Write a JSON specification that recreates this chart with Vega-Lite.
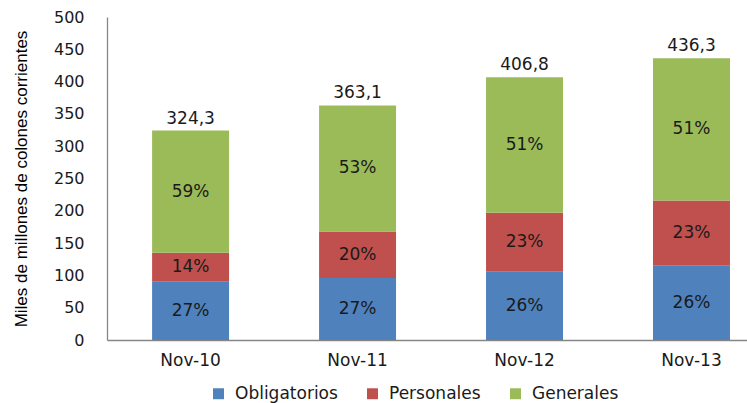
{
  "$schema": "https://vega.github.io/schema/vega-lite/v6.json",
  "width": 640,
  "height": 323,
  "autosize": {"type": "none"},
  "padding": {"left": 107, "top": 17, "right": 0, "bottom": 63},
  "background": "white",
  "data": {
    "values": [
      {"fecha": "Nov-10", "tipo": "Obligatorios", "orden": 1, "valor": 90.0, "pct": 0.27},
      {"fecha": "Nov-10", "tipo": "Personales", "orden": 2, "valor": 45.0, "pct": 0.14},
      {"fecha": "Nov-10", "tipo": "Generales", "orden": 3, "valor": 189.3, "pct": 0.59},
      {"fecha": "Nov-11", "tipo": "Obligatorios", "orden": 1, "valor": 96.0, "pct": 0.27},
      {"fecha": "Nov-11", "tipo": "Personales", "orden": 2, "valor": 72.0, "pct": 0.20},
      {"fecha": "Nov-11", "tipo": "Generales", "orden": 3, "valor": 195.1, "pct": 0.53},
      {"fecha": "Nov-12", "tipo": "Obligatorios", "orden": 1, "valor": 105.6, "pct": 0.26},
      {"fecha": "Nov-12", "tipo": "Personales", "orden": 2, "valor": 91.4, "pct": 0.23},
      {"fecha": "Nov-12", "tipo": "Generales", "orden": 3, "valor": 209.8, "pct": 0.51},
      {"fecha": "Nov-13", "tipo": "Obligatorios", "orden": 1, "valor": 115.0, "pct": 0.26},
      {"fecha": "Nov-13", "tipo": "Personales", "orden": 2, "valor": 101.0, "pct": 0.23},
      {"fecha": "Nov-13", "tipo": "Generales", "orden": 3, "valor": 220.3, "pct": 0.51}
    ]
  },
  "transform": [
    {"stack": "valor", "groupby": ["fecha"], "sort": [{"field": "orden", "order": "ascending"}], "as": ["y0", "y1"]},
    {"calculate": "(datum.y0 + datum.y1) / 2", "as": "ymid"}
  ],
  "encoding": {
    "x": {
      "field": "fecha",
      "type": "nominal",
      "title": null,
      "scale": {"paddingInner": 0.539, "paddingOuter": 0.186, "align": 0.726},
      "axis": {"labelAngle": 0}
    }
  },
  "layer": [
    {
      "mark": {"type": "bar"},
      "encoding": {
        "y": {
          "field": "y0",
          "type": "quantitative",
          "scale": {"domain": [0, 500], "nice": false},
          "title": "Miles de millones de colones corrientes",
          "axis": {"values": [0, 50, 100, 150, 200, 250, 300, 350, 400, 450, 500], "labelOverlap": false}
        },
        "y2": {"field": "y1"},
        "color": {
          "field": "tipo",
          "type": "nominal",
          "scale": {
            "domain": ["Obligatorios", "Personales", "Generales"],
            "range": ["#4F81BD", "#C0504D", "#9BBB59"]
          },
          "legend": {
            "title": null,
            "orient": "none",
            "direction": "horizontal",
            "legendX": 103,
            "legendY": 368,
            "symbolType": "square",
            "symbolSize": 120,
            "symbolStrokeWidth": 0,
            "labelFont": "DejaVu Sans",
            "labelFontSize": 17,
            "labelColor": "#1a1a1a",
            "labelOffset": 8,
            "columnPadding": 26,
            "padding": 0
          }
        }
      }
    },
    {
      "mark": {"type": "text", "font": "DejaVu Sans", "fontSize": 17, "color": "#1a1a1a", "baseline": "middle"},
      "encoding": {
        "y": {"field": "ymid", "type": "quantitative", "axis": {"values": [0, 50, 100, 150, 200, 250, 300, 350, 400, 450, 500], "labelOverlap": false}},
        "text": {"field": "pct", "type": "quantitative", "format": ".0%"}
      }
    },
    {
      "mark": {"type": "text", "font": "DejaVu Sans", "fontSize": 17, "color": "#1a1a1a", "baseline": "bottom", "dy": -3},
      "encoding": {
        "y": {"aggregate": "max", "field": "y1", "type": "quantitative", "axis": {"values": [0, 50, 100, 150, 200, 250, 300, 350, 400, 450, 500], "labelOverlap": false}},
        "text": {"aggregate": "sum", "field": "valor", "type": "quantitative", "format": ".1f"}
      }
    }
  ],
  "config": {
    "view": {"stroke": null},
    "axisX": {
      "ticks": false,
      "labelPadding": 12,
      "labelFont": "DejaVu Sans",
      "labelFontSize": 17,
      "labelColor": "#1a1a1a",
      "domainColor": "#868686",
      "domainWidth": 1.3,
      "grid": false
    },
    "axisY": {
      "grid": false,
      "ticks": false,
      "labelOverlap": false,
      "labelPadding": 23,
      "labelFont": "DejaVu Sans",
      "labelFontSize": 16,
      "labelColor": "#1a1a1a",
      "domainColor": "#868686",
      "domainWidth": 1.3,
      "titleFont": "Liberation Sans",
      "titleFontSize": 17,
      "titleFontWeight": "normal",
      "titleColor": "#000000",
      "titlePadding": 23
    },
    "locale": {"number": {"decimal": ",", "thousands": ".", "grouping": [3], "currency": ["", ""]}}
  }
}
